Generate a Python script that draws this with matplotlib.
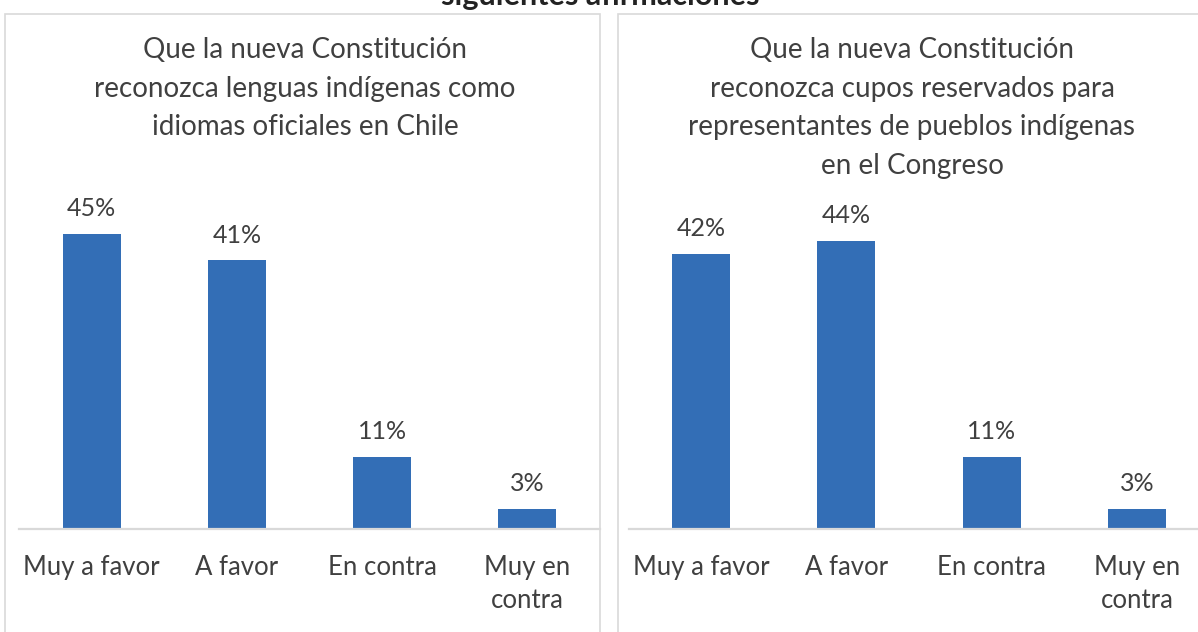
import matplotlib.pyplot as plt
from matplotlib.patches import Rectangle

plt.rcParams['font.family'] = ['Lato', 'DejaVu Sans']

# datos
categorias = ['Muy a favor', 'A favor', 'En contra', 'Muy en\ncontra']
lenguas = [45, 41, 11, 3]
cupos = [42, 44, 11, 3]
titulo_izq = 'Que la nueva Constitución\nreconozca lenguas indígenas como\nidiomas oficiales en Chile'
titulo_der = 'Que la nueva Constitución\nreconozca cupos reservados para\nrepresentantes de pueblos indígenas\nen el Congreso'
titulo_sup = 'siguientes afirmaciones'

AZUL = '#336eb6'
GRIS = '#404040'
BORDE = '#d9d9d9'

W, H = 1198, 632
fig = plt.figure(figsize=(W / 100, H / 100), dpi=100)

# marcos de cada panel
fig.patches.append(Rectangle((5 / W, -0.1), 595 / W, 1.1 - 14 / H, transform=fig.transFigure,
                             fill=False, edgecolor=BORDE, linewidth=1.2))
fig.patches.append(Rectangle((618 / W, -0.1), 600 / W, 1.1 - 14 / H, transform=fig.transFigure,
                             fill=False, edgecolor=BORDE, linewidth=1.2))

# titulo general, cortado arriba como en la imagen original
fig.text(600 / W, 1 - 5 / H, titulo_sup, ha='center', va='baseline', fontsize=22,
         fontweight='bold', color='#222222')


def panel(left_px, valores, titulo, tx):
    ax = fig.add_axes([left_px / W, 103 / H, 581 / W, 327.5 / H])
    x = range(len(valores))
    bars = ax.bar(x, valores, width=0.4, color=AZUL)
    ax.set_xlim(-0.5, 3.5)
    ax.set_ylim(0, 50)
    for b, v in zip(bars, valores):
        ax.annotate('%d%%' % v, (b.get_x() + b.get_width() / 2, v), xytext=(0, 10),
                    textcoords='offset points', ha='center', va='bottom',
                    fontsize=18, color=GRIS)
    for s in ['top', 'right', 'left']:
        ax.spines[s].set_visible(False)
    ax.spines['bottom'].set_color(BORDE)
    ax.spines['bottom'].set_linewidth(1.6)
    ax.set_yticks([])
    ax.set_xticks(list(x))
    ax.set_xticklabels(categorias, fontsize=18.5, color=GRIS, linespacing=1.36)
    ax.tick_params(axis='x', length=0, pad=19)
    ax.patch.set_alpha(0)
    fig.text(tx / W, 1 - 37 / H, titulo, ha='center', va='top', fontsize=20,
             color=GRIS, linespacing=1.6)
    return ax


panel(19, lenguas, titulo_izq, 305)
panel(628.5, cupos, titulo_der, 912)

fig.savefig('out.png', dpi=100)
